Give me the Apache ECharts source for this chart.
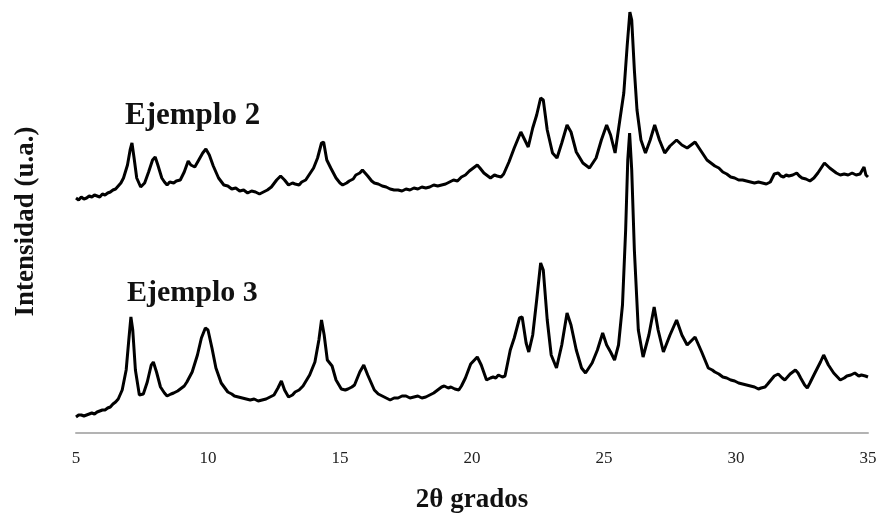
<!DOCTYPE html>
<html>
<head>
<meta charset="utf-8">
<script src="https://cdn.jsdelivr.net/npm/echarts@6/dist/echarts.min.js"></script>
<style>html,body{margin:0;padding:0;background:#fff}#c{width:883px;height:527px}</style>
</head>
<body>
<div id="c"></div>
<script>
// x-axis ticks (2θ, degrees)
const xTicks = [5, 10, 15, 20, 25, 30, 35];
const seriesNames = ['Ejemplo 2', 'Ejemplo 3'];
// Ejemplo 2 (vertically offset trace): [2θ, intensidad u.a.]
const ejemplo2 = [
  [5.0,235],[5.1,233],[5.2,236],[5.3,234],[5.4,235],[5.5,237],[5.6,236],[5.7,238],[5.8,237],[5.9,236],[6.0,239],[6.1,238],[6.2,240],[6.3,241],[6.4,243],[6.5,244],[6.6,247],[6.7,250],[6.8,255],
  [6.95,268],[7.05,283],[7.12,290],[7.2,275],[7.3,255],[7.45,246],[7.6,250],[7.75,261],[7.9,273],[8.0,276],
  [8.1,268],[8.25,255],[8.35,251],[8.45,248],[8.55,251],[8.7,250],[8.8,252],[8.95,253],[9.1,261],[9.25,272],[9.35,268],[9.5,266],[9.65,273],
  [9.8,280],[9.92,284],[10.05,278],[10.2,267],[10.4,255],[10.6,248],[10.75,247],[10.9,244],[11.05,245],[11.2,242],[11.35,243],[11.5,240],[11.65,242],[11.8,241],[11.95,239],
  [12.1,241],[12.25,243],[12.4,246],[12.6,253],[12.75,257],[12.9,253],[13.05,248],[13.2,250],[13.3,249],[13.45,248],[13.55,251],[13.7,253],[13.8,257],[14.0,265],
  [14.15,275],[14.3,290],[14.38,291],[14.5,273],[14.65,265],[14.85,255],[15.0,250],[15.1,248],[15.25,250],[15.35,252],[15.5,254],[15.6,258],[15.75,260],[15.85,263],
  [16.05,257],[16.2,252],[16.3,250],[16.45,249],[16.6,247],[16.75,246],[16.9,244],[17.05,243],[17.2,243],[17.35,242],[17.5,244],[17.65,243],[17.8,245],[17.95,244],[18.1,246],[18.25,245],[18.4,246],[18.55,248],[18.7,247],
  [18.85,248],[19.0,249],[19.15,251],[19.3,253],[19.45,252],[19.6,256],[19.75,258],[19.9,262],[20.05,265],[20.2,268],[20.3,265],[20.45,260],[20.6,257],[20.7,255],[20.85,258],[20.95,257],[21.1,256],[21.2,259],[21.4,271],
  [21.6,285],[21.85,301],[22.0,293],[22.13,286],[22.3,305],[22.45,318],[22.6,335],[22.7,333],[22.85,303],[23.05,280],
  [23.22,275],[23.4,290],[23.6,308],[23.75,301],[23.95,281],[24.2,270],[24.45,265],[24.7,275],[24.9,293],[25.1,308],
  [25.25,298],[25.42,280],[25.6,313],[25.75,340],[25.88,388],[25.98,421],[26.05,413],[26.15,363],[26.25,323],[26.4,293],
  [26.57,280],[26.75,293],[26.92,308],[27.1,293],[27.3,280],[27.5,287],[27.75,293],[27.95,288],[28.15,285],[28.45,291],
  [28.7,281],[28.9,273],[29.05,270],[29.2,267],[29.35,265],[29.5,261],[29.65,259],[29.8,256],[29.95,255],[30.1,253],[30.25,253],[30.4,252],[30.55,251],[30.7,250],[30.85,251],[31.0,250],[31.15,249],[31.3,251],
  [31.45,259],[31.6,260],[31.7,257],[31.8,256],[31.9,258],[32.0,257],[32.15,258],[32.3,260],[32.4,257],[32.5,255],[32.65,254],[32.8,252],[32.95,255],[33.1,260],[33.35,270],[33.55,265],
  [33.7,262],[33.8,260],[33.95,258],[34.1,259],[34.25,258],[34.4,260],[34.55,258],[34.7,259],[34.85,266],[34.92,258],[35.0,256]
];
// Ejemplo 3 (lower trace): [2θ, intensidad u.a.]
const ejemplo3 = [
  [5.0,16],[5.1,18],[5.2,18],[5.3,17],[5.4,18],[5.5,19],[5.6,20],[5.7,19],[5.8,21],[5.9,22],[6.0,23],[6.1,23],[6.2,25],[6.3,26],[6.4,29],[6.5,31],[6.6,34],[6.75,43],
  [6.9,63],[7.0,93],[7.08,116],[7.15,103],[7.25,63],[7.4,38],[7.55,39],[7.7,51],[7.85,68],[7.93,71],
  [8.05,61],[8.2,46],[8.35,40],[8.45,37],[8.6,39],[8.7,40],[8.85,42],[8.95,44],[9.1,47],[9.2,51],[9.4,61],[9.6,78],[9.75,95],[9.9,105],
  [10.0,103],[10.15,85],[10.3,65],[10.5,50],[10.75,41],[10.9,39],[11.0,37],[11.15,36],[11.3,35],[11.45,34],[11.6,33],[11.75,34],[11.9,32],[12.05,33],[12.2,34],[12.35,36],
  [12.5,38],[12.65,45],[12.78,52],[12.9,43],[13.05,36],[13.2,38],[13.3,41],[13.45,43],[13.6,47],[13.85,58],[14.05,71],[14.2,93],
  [14.3,113],[14.4,98],[14.52,73],[14.7,67],[14.85,53],[15.05,44],[15.2,43],[15.3,44],[15.45,46],[15.55,48],[15.75,61],[15.9,68],
  [16.05,58],[16.3,43],[16.45,39],[16.6,37],[16.75,35],[16.9,33],[17.05,35],[17.2,35],[17.35,37],[17.5,37],[17.65,35],[17.8,36],[17.95,37],[18.1,35],[18.25,36],[18.4,38],[18.55,40],[18.7,43],
  [18.85,46],[18.95,47],[19.1,45],[19.2,46],[19.35,44],[19.5,43],[19.6,47],[19.75,55],[19.95,69],[20.2,76],[20.35,68],[20.55,53],[20.7,55],[20.8,56],[20.9,55],[21.0,58],
  [21.15,56],[21.25,57],[21.45,83],[21.6,95],[21.8,115],[21.9,116],[22.05,90],[22.15,81],[22.3,98],[22.45,133],[22.6,170],
  [22.7,163],[22.85,113],[23.0,78],[23.2,65],[23.4,88],[23.6,120],[23.75,108],[23.95,83],[24.15,65],[24.3,60],
  [24.55,70],[24.75,83],[24.95,100],[25.1,88],[25.25,81],[25.4,73],[25.55,88],[25.7,128],[25.82,203],[25.9,273],
  [25.97,300],[26.05,263],[26.15,183],[26.3,103],[26.48,76],[26.7,98],[26.9,126],[27.05,103],[27.25,81],[27.5,98],
  [27.75,113],[27.95,98],[28.15,88],[28.45,96],[28.7,81],[28.95,65],[29.1,63],[29.2,61],[29.35,59],[29.5,56],[29.65,55],[29.8,53],[29.95,52],[30.1,50],
  [30.25,49],[30.4,48],[30.55,47],[30.7,46],[30.85,44],[30.95,45],[31.1,46],[31.2,49],[31.45,57],[31.6,59],[31.75,55],[31.85,53],[32.05,59],[32.25,63],[32.35,60],[32.45,55],
  [32.6,48],[32.7,45],[32.8,50],[32.95,58],[33.2,71],[33.32,78],[33.5,68],[33.7,60],[33.95,53],[34.1,55],[34.2,57],[34.35,58],[34.5,60],[34.65,57],[34.75,58],[34.9,57],[35.0,56]
];

const serif = '"Liberation Serif", "Times New Roman", serif';
const chart = echarts.init(document.getElementById('c'), null, {renderer: 'canvas'});
chart.setOption({
  animation: false,
  backgroundColor: '#ffffff',
  grid: {left: 76, right: 15, top: 10, bottom: 94, containLabel: false, outerBoundsMode: 'none'},
  xAxis: {
    type: 'value', min: xTicks[0], max: xTicks[xTicks.length - 1], interval: 5,
    axisLine: {show: true, lineStyle: {color: '#b3b3b3', width: 2}},
    axisTick: {show: false},
    splitLine: {show: false},
    axisLabel: {color: '#222', fontFamily: serif, fontSize: 17, margin: 17},
    name: '2θ grados', nameLocation: 'middle', nameGap: 54,
    nameTextStyle: {fontFamily: serif, fontWeight: 'bold', fontSize: 27, color: '#111'}
  },
  yAxis: {
    type: 'value', min: 0, max: 423,
    axisLine: {show: false}, axisTick: {show: false}, axisLabel: {show: false}, splitLine: {show: false},
    name: 'Intensidad (u.a.)', nameLocation: 'middle', nameGap: 36, nameRotate: 90,
    nameTextStyle: {fontFamily: serif, fontWeight: 'bold', fontSize: 27, color: '#111'}
  },
  series: [
    {name: seriesNames[0], type: 'line', data: ejemplo2, showSymbol: false, smooth: false,
     lineStyle: {color: '#000', width: 3}},
    {name: seriesNames[1], type: 'line', data: ejemplo3, showSymbol: false, smooth: false,
     lineStyle: {color: '#000', width: 3}}
  ],
  graphic: [
    {type: 'text', left: 125, top: 100, style: {text: seriesNames[0], font: 'bold 31px ' + serif, fill: '#111'}},
    {type: 'text', left: 127, top: 278, style: {text: seriesNames[1], font: 'bold 30px ' + serif, fill: '#111'}}
  ]
});
</script>
</body>
</html>
